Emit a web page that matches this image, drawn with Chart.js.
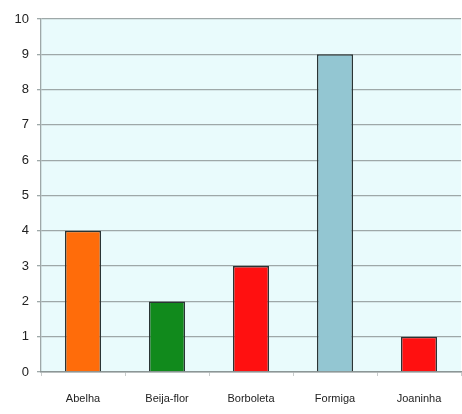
<!DOCTYPE html>
<html>
<head>
<meta charset="utf-8">
<script src="https://cdn.jsdelivr.net/npm/chart.js@4"></script>
<style>
  html, body { margin: 0; padding: 0; background: #ffffff; }
  #wrap { width: 462px; height: 414px; }
</style>
</head>
<body>
<div id="wrap"><canvas id="chart" width="462" height="414"></canvas></div>
<script>
const categories = ['Abelha', 'Beija-flor', 'Borboleta', 'Formiga', 'Joaninha'];
const counts = [4, 2, 3, 9, 1];
const barColors = ['#ff6c0a', '#118a1c', '#ff1010', '#93c6d2', '#ff1010'];
const yTicks = [0, 1, 2, 3, 4, 5, 6, 7, 8, 9, 10];

// fill the plot area with the pale cyan
const plotBackground = {
    id: 'plotBackground',
    beforeDraw(chart) {
        const a = chart.chartArea;
        const ctx = chart.ctx;
        ctx.save();
        ctx.fillStyle = '#e9fbfc';
        ctx.fillRect(a.left, a.top, a.right - a.left, a.bottom - a.top);
        ctx.restore();
    }
};

new Chart(document.getElementById('chart').getContext('2d'), {
    type: 'bar',
    data: {
        labels: categories,
        datasets: [{
            data: counts,
            backgroundColor: barColors,
            borderColor: '#2a3434',
            borderWidth: 1.5,
            barPercentage: 0.86,
            categoryPercentage: 0.5,
        }],
    },
    options: {
        responsive: false,
        animation: false,
        layout: { padding: { top: 19, right: 1, left: 0, bottom: 0 } },
        plugins: {
            legend: { display: false },
            tooltip: { enabled: false },
        },
        scales: {
            y: {
                min: 0,
                max: 10,
                afterBuildTicks: function (scale) {
                    scale.ticks = yTicks.map(v => ({ value: v }));
                },
                afterFit: function (scale) { scale.width = 41; },
                grid: {
                    color: '#9ea8a8',
                    lineWidth: 1.3,
                    tickLength: 4,
                },
                border: { color: '#9ea8a8', width: 1.3 },
                ticks: {
                    color: '#222',
                    padding: 8,
                    font: { family: 'Liberation Sans', size: 13 },
                },
            },
            x: {
                afterFit: function (scale) { scale.height = 42; },
                grid: {
                    drawOnChartArea: false,
                    color: '#c8cccc',
                    tickLength: 4,
                    offset: true,
                },
                border: { color: '#8c9696', width: 1.5 },
                ticks: {
                    color: '#222',
                    padding: 16,
                    font: { family: 'Liberation Sans', size: 11 },
                },
            },
        },
    },
    plugins: [plotBackground],
});
</script>
</body>
</html>
